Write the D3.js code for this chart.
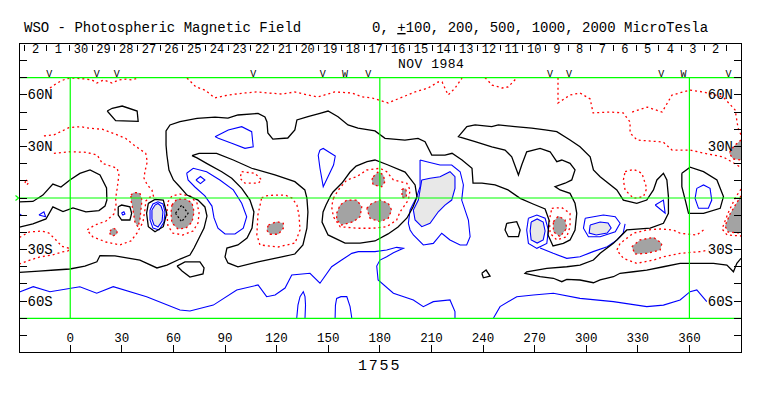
<!DOCTYPE html>
<html>
<head>
<meta charset="utf-8">
<script src="https://cdn.jsdelivr.net/npm/d3@7"></script>
<style>
  body { margin: 0; background: #fff; }
  svg { display: block; }
  text { font-family: "Liberation Mono", "DejaVu Sans Mono", monospace; fill: #000; }
</style>
</head>
<body>
<svg id="chart" width="763" height="396"></svg>
<script>
// ---- axis data ----
const lonTicks = [0, 30, 60, 90, 120, 150, 180, 210, 240, 270, 300, 330, 360];
const latTicks = [-80, -70, -60, -50, -40, -30, -20, -10, 0, 10, 20, 30, 40, 50, 60, 70, 80];
const latLabelLat = [60, 30, -30, -60];
const latLabelText = ["60N", "30N", "30S", "60S"];
const dayLabels = ["2", "1", "30", "29", "28", "27", "26", "25", "24", "23", "22", "21", "20", "19", "18",
  "17", "16", "15", "14", "13", "12", "11", "10", "9", "8", "7", "6", "5", "4", "3", "2"];
const firstDayLon = -26.75, dayWidth = 13.18;
const markLon = [-12.2, 15.4, 27, 106.4, 146.8, 159.8, 173.3, 279, 290, 343.6, 356.5, 382.7];
const markChar = ["V", "V", "V", "V", "V", "W", "V", "V", "V", "V", "W", "V"];

// ---- contour data: [longitude, latitude] ----
// zero line (black)
const zeroContours = [
  [[21.5,50.6],[24.4,52.2],[30.2,53.5],[38.9,50.6],[39.5,44.6],[26.4,45],[21.5,50.6]],
  [[-29.5,-2.3],[-21.7,-2],[-15.9,1.7],[-10.1,8.1],[-5.4,6.4],[-0.2,10.5],[5.6,14.3],[11.5,16.3],[17.3,13.4],[21.1,5.8],[21.3,-1.2],[20.2,-4.7],[16.7,-7.3],[9.1,-8.1],[1.6,-5.8],[-4.2,-7.9],[-10.1,-5.2],[-14.1,-12.2],[-21.7,-15.1],[-29.5,-16.9]],
  [[-29.5,-43.3],[-18.2,-42.5],[-8.9,-41.9],[-0.2,-41.3],[8.5,-39.6],[15.5,-37.1],[17.3,-33.5],[26,-33.7],[40.5,-36.1],[50.4,-40.7],[56.2,-39],[63.8,-35.5],[69.6,-33.2],[72,-29.1],[74.9,-23.3],[77.8,-17.5],[79.5,-10.5],[78.3,-5.2],[74.3,-1.2],[67.9,1.7],[63.8,6.4],[60,10.5],[57.4,16.3],[56.2,25],[55.7,30.8],[55.7,39],[58,42.5],[63.8,44.4],[73.7,46.3],[84.2,47.1],[91.7,46.5],[97.5,48.3],[109.2,49.2],[113.2,47.1],[114.4,44.2],[114.9,37.8],[117.8,34.3],[126.5,34.9],[130.6,39.6],[131.8,45.4],[138.2,47.3],[145.2,49.3],[149.9,50.6],[155.7,47.3],[161.5,42.5],[167.3,40.6],[177.2,39],[183,34.7],[194.6,33.7],[202.2,34.7],[206.3,32.8],[210.2,25],[217.9,25],[222,26],[227.8,22.1],[233.6,17.3],[234.2,8.6],[239.4,8.6],[247,7.6],[254.5,4.7],[261.6,-0.2],[269.1,-3.5],[276.1,-6.4],[278.4,-12.8],[277.8,-21.5],[280.7,-27.9],
   [286.7,-26.4],[290.6,-24.4],[293.5,-18.6],[294.5,-8.9],[293.5,-3.1],[290.6,2.7],[284.8,4.7],[281.9,6.6],[287.7,8.6],[291.6,10.5],[293.5,16.3],[290.6,20.2],[285.8,22.1],[282.9,21.1],[279,26.9],[273.2,28.9],[265.4,26.9],[262.5,19.2],[260.6,13.4],[256.7,24],[252.8,27.9],[245.1,29.8],[235.4,32.8],[225.7,35.7],[230.6,41.5],[235.4,42.5],[245.1,41.5],[248.9,42.5],[258.6,41.5],[268.3,40.6],[276.1,39.6],[282.9,38.6],[290.6,33.7],[296.4,29.8],[302.3,24],[304.2,16.3],[308.1,12.4],[317.8,4.7],[321.6,-1.2],[329.4,-3.1],[335.2,-1.2],[339.1,4.7],[341.1,10.5],[344.9,14.4],[346.9,10.5],[347.8,0.8],[347.8,-8.9],[344.9,-14.7],[337.2,-17.5],[323.6,-18.6],[319.7,-22.5],[315.8,-26.4],[308.1,-32.2],[304.2,-36.1],[296.4,-39],[288.7,-40],[277.1,-40.9],[265.4,-42.9],[264.4,-43.8],[273.2,-45.8],[280.9,-46.7],[285.8,-48.7],[288.7,-47.3],[296.4,-47.7],[304.2,-49.3],[308.1,-47.7],[315.8,-45.8],[319.7,-43.8],[327.4,-42.9],[335.2,-41.9],[344.9,-40],[354.6,-38],[364.3,-38],[374,-38],[381.8,-39],[385.6,-42.9],[387.6,-38],[390,-35.1]],
  [[70.8,24.7],[74.9,26],[85.1,26],[94.8,22.1],[105.5,17.3],[119,13.4],[130.6,9.5],[136.4,4.7],[137.6,0],[138.2,-8.1],[137.6,-17.5],[135.3,-27.3],[130.6,-32.6],[123,-34.3],[109.2,-37.2],[97.5,-40.1],[91.7,-37.8],[90,-34.3],[91.1,-29.1],[97.5,-27.3],[102.8,-23.3],[105.7,-17.5],[106.8,-8.1],[104.5,-1.2],[99.7,5.6],[93.9,11.5],[88.1,15.3],[80.3,19.6],[73.7,23.3],[70.8,24.7]],
  [[151.6,1.7],[148.7,-4.1],[147,-8.1],[146.4,-14],[149.9,-21.5],[159.8,-26.2],[168.5,-26.2],[177.2,-25],[184.8,-20.9],[190.6,-16.9],[195.8,-11.6],[199.3,-5.2],[201.6,0.6],[200.5,7.6],[194.7,15.1],[184.8,19.2],[177.2,22.1],[172.6,21.1],[166.2,18.6],[162.7,15.1],[158,8.7],[152.8,3.5],[151.6,1.7]],
  [[62.1,-39.6],[66.7,-37.2],[75.4,-37.2],[77.8,-40.7],[77.2,-44.2],[69.6,-46],[65,-42.5],[62.1,-39.6]],
  [[253.8,-14.7],[259.6,-13.8],[261.6,-18.6],[260.6,-22.5],[254.7,-22.5],[252.8,-18.6],[253.8,-14.7]],
  [[355.6,14.4],[360.4,17.9],[368.2,15.3],[376,10.5],[379.8,0.8],[377.9,-6],[368.2,-8.9],[359.5,-8.9],[357.6,-1.2],[355.6,6.6],[355.6,14.4]],
  [[239.3,-43.8],[241.8,-41.9],[244.1,-45.4],[240.2,-46.4],[239.3,-43.8]],
  [[27.9,-5.1],[29.9,-4.1],[34.7,-5.1],[35.7,-8.9],[34.7,-12.8],[29.9,-12.8],[27.9,-9.9],[27.9,-5.1]],
  [[45.4,-3.1],[49.3,-0.8],[54.1,-1.2],[56.1,-8.9],[54.1,-16.7],[49.3,-19.6],[45.4,-16.7],[44.4,-8.9],[45.4,-3.1]]
];

// positive contours (red dotted)
const posContours = [
  [[-11.8,64],[-8.9,66],[-5.4,68.1],[-1.9,69.5],[1,69.8],[5.6,69.5],[9.1,69.2],[12.6,68.7],[15.5,66.9],[19.6,68.7],[24.3,66.9],[28.3,68.7],[32.4,69.2],[35.9,68.7],[40,70]],
  [[67.9,69.8],[70.8,66.9],[73.1,64.6],[78.3,62.8],[84.1,58.2],[91.7,59.9],[101.6,61.1],[108.5,61.7],[114.9,61.1],[123,60.5],[130.6,61.7],[138.2,59.9],[144,58.8],[153.9,61.7],[163.8,61.1],[169.6,58.8],[175.5,58.2],[184.8,55.3],[188.9,57],[200.5,61.7],[208.1,64],[213.9,67.5],[216.2,67.5],[219.7,59.9],[223.8,64],[227.8,69.8]],
  [[241.2,70],[245.3,65.7],[251.1,64],[254.6,64.6],[259.8,70]],
  [[283.6,70],[283.6,62.8],[283.6,55.3],[290.6,59.9],[296.4,61.1],[302.3,57.6],[304,49.5],[313.9,50],[321.5,49.5],[325.5,44.2],[325.5,37.8],[329.6,33.7],[344.7,32.6],[349.9,27.9],[360.4,27.9],[367.9,26.2],[379.6,23.9],[387.7,19.2],[390,17.5]],
  [[326.7,50],[335.4,52.9],[344.1,50],[349.9,59.9],[360.4,62.8],[368,61.7],[379.6,58.8],[386.6,51.2],[388.3,40.7],[390,36.7]],
  [[-15.3,36.1],[-9.5,36.7],[-0.8,40.9],[6,41.5],[10.9,40.6],[18.6,40],[27.3,36.7],[32.2,34.7],[37,30.8],[43.9,26],[44.8,21.1],[43.4,15.3],[42.9,11.5],[44.8,7.6],[47.5,4.7],[48.7,-0.2]],
  [[-9.5,26],[-0.8,26.9],[9,26.6],[15.7,25],[18.6,20.2],[27.3,17.3],[28.3,13.4],[27.3,5.6],[26.4,-0.2],[26.6,-4.1],[25.4,-9.3],[20.8,-13.4],[14.4,-15.7],[9.7,-18.6],[13.2,-22.7],[20.8,-25.6],[28.9,-27.3],[35.3,-25],[38.8,-20.4],[42.3,-14],[43.4,-7],[44,-1.7],[46.4,0.6],[48.7,-0.2]],
  [[56.8,-2.3],[59.1,1.2],[63.8,2.3],[69.6,1.2],[73.7,-2.9],[74.9,-8.7],[74.3,-14.5],[71.4,-19.2],[65.5,-21.5],[59.7,-20.4],[56.8,-16.3],[56.2,-8.7],[56.8,-2.3]],
  [[153,-0.2],[155.9,4.7],[160.8,10.5],[166.6,12.4],[172.4,16.3],[180.1,17.3],[184,15.3],[187.9,10.5],[191.8,9.5],[195.7,8.6],[197.6,4.7],[196.6,-1.2],[191.8,-8],[189.8,-12.8],[184,-16.7],[176.2,-17.6],[166.6,-17.6],[156.9,-16.7],[153,-10.9],[152,-5.1],[153,-0.2]],
  [[99.7,15.3],[107.4,14.4],[111.3,10.5],[109.3,8.6],[101.6,8.6],[98.7,11.5],[99.7,15.3]],
  [[111.3,0],[113.2,1.2],[119.1,1.7],[124.9,1.7],[128.9,0],[131.8,-4.1],[133,-9.9],[133.6,-18.6],[130.7,-26.2],[120.8,-28.5],[110.3,-27.3],[108.5,-21.5],[109.1,-9.9],[111.3,0]],
  [[-29.5,-23],[-24,-19.8],[-16.5,-19.2],[-12.4,-20.4],[-8.3,-24.4],[-4.8,-28.2],[-0.2,-29.4],[-1.3,-30.8],[-4.8,-31.4],[-10.6,-33.2],[-17.6,-34.3],[-23.4,-36.1],[-29.5,-38.4]],
  [[-25.8,10.5],[-24,9.3],[-25.2,7.6],[-26.3,8.7],[-25.8,10.5]],
  [[322.6,15.3],[327.5,16.7],[332.4,14.4],[335.2,5.6],[333.3,0.8],[327.5,-0.2],[322.6,4.7],[321.6,10.5],[322.6,15.3]],
  [[280,-6],[285.8,-5.6],[290.6,-8.9],[290.6,-16.7],[288.7,-22.5],[282.9,-24.4],[279,-20.5],[278.6,-12.8],[280,-6]],
  [[368.2,-18.6],[364.3,-21.5],[354.6,-20.5],[350.6,-18.6],[343,-18],[335.2,-18.6],[327.4,-20.5],[319.7,-26.4],[317.8,-30.3],[321.6,-35.1],[329.4,-38],[339.1,-36.1],[344.9,-34.2],[354.6,-32.2],[366.2,-31.2],[371.1,-30.3]],
  [[390,5.2],[386.6,0],[382.5,-8.7],[379,-18],[381.9,-21.5],[390,-22.1]]
];

// strong positive cores (dark grey, red outline)
const posCores = [
  [[35.3,1.7],[37,3.2],[40.5,2.9],[41.7,-1.2],[41.1,-7],[40.5,-12.8],[39.4,-16.9],[37.6,-14],[36.5,-7],[35.3,-1.2],[35.3,1.7]],
  [[23.1,-19.2],[24.8,-17.5],[27.2,-18.6],[27.2,-20.9],[24.8,-22.1],[23.1,-20.9],[23.1,-19.2]],
  [[59.1,-4.1],[62.1,-0.6],[67.3,-0.6],[70.8,-2.9],[72,-8.1],[70.8,-14],[67.3,-17.5],[62.6,-18],[59.1,-14.5],[58.6,-8.7],[59.1,-4.1]],
  [[154.9,-8.9],[156.9,-4.1],[160.8,-1.2],[166.6,-1.2],[169.5,-5.1],[168.5,-10.9],[164.6,-13.8],[157.8,-15.7],[154.9,-12.8],[154.9,-8.9]],
  [[172.4,-6],[175.3,-3.1],[180.1,-1.2],[184.9,-3.1],[186.9,-7],[184.9,-11.8],[180.1,-13.8],[174.3,-11.8],[172.4,-6]],
  [[176.2,12.4],[179.1,15.3],[182,13.4],[183,9.5],[181.1,6.6],[176.2,7.6],[175.3,10.5],[176.2,12.4]],
  [[192.9,5.2],[195.2,5.5],[195.5,0.3],[192.9,0.3],[192.9,5.2]],
  [[115.2,-15.7],[120,-13.8],[123.9,-14.7],[123.9,-17.6],[121,-21.1],[116.1,-21.1],[114.2,-18.6],[115.2,-15.7]],
  [[280.9,-13.8],[283.8,-10.5],[287.7,-12.8],[288.7,-17.6],[284.8,-22.5],[280.9,-19.6],[280.9,-13.8]],
  [[326.5,-28.3],[331.3,-24.4],[339.1,-22.9],[344,-26.4],[343,-30.3],[335.2,-32.2],[328.4,-32.6],[326.5,-28.3]],
  [[390,1.2],[387.1,-3.5],[383.6,-9.3],[380.7,-16.3],[382.5,-19.8],[390,-20.4]],
  [[390,33.7],[386,30.3],[383.1,26.2],[385.4,22.7],[390,22.1]]
];

// very strong positive (black dashed)
const peakContours = [
  [[61.2,-8.9],[64.8,-4.1],[68.5,-8.9],[64.8,-13.8],[61.2,-8.9]]
];

// negative contours (blue)
const negContours = [
  [[84.2,35.7],[91.9,39.6],[99.7,41.5],[105.5,38.6],[106.4,29.8],[101.6,28.9],[93.9,31.8],[86.1,34.7],[84.2,35.7]],
  [[145.2,27.9],[147.1,28.8],[154.1,24.4],[153.1,19.2],[147.1,6.6],[145.2,17.3],[144.2,24.9],[145.2,27.9]],
  [[67.7,14.4],[71.5,17.3],[79.3,15.3],[87,10.5],[94.8,4.7],[99.7,-3.1],[102.6,-10.9],[100.6,-17.6],[95.8,-20.9],[90,-20.9],[85.9,-17.5],[83.6,-11.6],[82.4,-4.7],[78.3,1.2],[72.5,6.4],[68.5,10.5],[67.7,14.4]],
  [[73.1,10.5],[75.7,12.5],[78.3,10.5],[75.7,8.4],[73.1,10.5]],
  [[203.4,22.1],[207.3,21.1],[215,19.2],[221.8,19.2],[226.7,15.3],[228.6,7.6],[227.6,-1.2],[231.5,-12.8],[232.5,-22.5],[230.5,-27.3],[226.7,-27.3],[220.8,-24.4],[216,-20.5],[211.1,-26.4],[205.3,-27.3],[199.5,-21.5],[197.6,-18.6],[196.6,-14.7],[197.6,-7],[201.5,0.8],[203.4,6.6],[203.4,22.1]],
  [[-29.5,-54.7],[-21.5,-51.6],[-11.8,-54.5],[5.6,-51.6],[15.4,-55.4],[25,-51.6],[44.4,-57.4],[63.8,-65.2],[69.6,-65.7],[83.2,-62.3],[96.8,-53.5],[109.2,-50.6],[114.2,-57.4],[119.1,-56.4],[124.9,-52.4],[128.8,-44.8],[139.4,-43.8],[145.2,-49.6],[152,-40],[157.8,-36.1],[163.7,-32.2],[167.5,-31.2],[177.2,-31.2],[184,-30.3],[189.8,-28.7],[193.7,-29.3],[187.9,-31.8],[184,-34.2],[180.1,-36.1],[178.2,-39.6],[179,-47.7],[187.9,-55.4],[199.5,-59.3],[205.3,-63.2],[211.1,-60.3],[220.8,-59.3],[223.7,-66.1],[223.7,-69.8]],
  [[246.1,-69.8],[249.9,-63.2],[259.6,-57.4],[269.3,-56.4],[280.9,-55.4],[296.4,-58.4],[315.8,-60.3],[335.2,-63.2],[344.9,-62.3],[354.6,-59.3],[360.4,-54.5],[364.3,-53.5],[370.1,-60.3]],
  [[131.7,-69.8],[132.4,-62.3],[133.6,-57.4],[135.5,-54.5],[136.5,-57.4],[136.8,-62.3],[136.5,-69.8]],
  [[154,-69.8],[154.2,-62.3],[154.9,-58.4],[157.4,-57.4],[160.8,-57.4],[162.7,-63.2],[163.7,-69.8]],
  [[-18.2,-9.9],[-15.3,-8],[-14.3,-10.9],[-18.2,-9.9]],
  [[-29.5,-9.3],[-28.6,-9.9],[-29.5,-10.5]],
  [[29.8,-8.7],[31.2,-8],[31.8,-9.3],[30.6,-9.9],[29.8,-8.7]],
  [[46.4,-7],[48.1,-3.5],[51,-2.2],[53.9,-3.5],[55.1,-8.1],[54.5,-14],[51.6,-18.6],[48.1,-17.5],[46.4,-12.8],[46.4,-7]],
  [[266.4,-11.8],[271.3,-9.9],[276.1,-11.8],[278,-18.6],[277.1,-26.4],[271.3,-29.3],[266.4,-26.4],[265.4,-18.6],[266.4,-11.8]],
  [[273.2,-29.1],[280.8,-32.2],[288.7,-35.1],[296.4,-34.2],[304,-31.2],[312.2,-28.3],[318,-24.4],[321.5,-20.4],[322.6,-15.1]],
  [[299.4,-11.8],[310,-9.9],[316.9,-10.9],[319.7,-14.7],[316.9,-19.6],[308.1,-22.5],[301.3,-22.5],[298.4,-17.6],[299.4,-11.8]],
  [[364.3,5.6],[368.2,7.6],[372,5.6],[373,-1.2],[371,-6],[365.3,-6],[363.3,-0.2],[364.3,5.6]],
  [[340.1,-4.1],[344.9,-1.2],[345.9,-8.9],[340.1,-4.1]]
];

// strong negative cores (light grey, blue outline)
const negCores = [
  [[204.4,10.5],[209.2,11.5],[215,12.4],[220.8,15.3],[223.7,12.4],[223.7,5.6],[221.8,-1.2],[217.9,-4.1],[214,-8],[209.2,-14.7],[204.4,-16.7],[200.5,-12.8],[199.5,-7],[202.4,-1.2],[203.4,4.7],[204.4,10.5]],
  [[47.5,-7],[49.3,-4.1],[51,-3.2],[52.8,-4.7],[53.9,-8.1],[53.4,-13.4],[51,-16.9],[48.7,-15.7],[47.5,-12.2],[47.5,-7]],
  [[268,-14],[271.5,-12.2],[275,-14],[276.1,-19.2],[275,-24.4],[271.5,-26.2],[268,-24.4],[267.4,-19.2],[268,-14]],
  [[302.3,-15.7],[308.1,-14],[312.7,-14.5],[314.5,-17.5],[312.2,-20.4],[305.8,-21.5],[301.7,-20.4],[302.3,-15.7]]
];

// ---- scales ----
const svg = d3.select("#chart");
const x = d3.scaleLinear().domain([-29.5, 390]).range([19.5, 741]);
const y = d3.scaleLinear().domain([-90, 90]).range([352.7, 43.3]);
const line = d3.line().x(d => x(d[0])).y(d => y(d[1]));

svg.append("defs").append("clipPath").attr("id", "plotclip")
  .append("rect")
  .attr("x", x(-29.5)).attr("y", y(70))
  .attr("width", x(390) - x(-29.5)).attr("height", y(-70) - y(70));

const plot = svg.append("g").attr("clip-path", "url(#plotclip)");

// filled cores
plot.selectAll(".pcore").data(posCores).enter().append("path")
  .attr("d", line).attr("fill", "#a3a3a3").attr("stroke", "none");
plot.selectAll(".ncore").data(negCores).enter().append("path")
  .attr("d", line).attr("fill", "#e8e8e8").attr("stroke", "none");

// contour lines
plot.selectAll(".pos").data(posContours.concat(posCores)).enter().append("path")
  .attr("d", line).attr("fill", "none")
  .attr("stroke", "#ff0000").attr("stroke-width", 1.3).attr("stroke-dasharray", "2,3");
plot.selectAll(".neg").data(negContours.concat(negCores)).enter().append("path")
  .attr("d", line).attr("fill", "none")
  .attr("stroke", "#0000ff").attr("stroke-width", 1.1);
plot.selectAll(".zero").data(zeroContours).enter().append("path")
  .attr("d", line).attr("fill", "none")
  .attr("stroke", "#000").attr("stroke-width", 1.3);
plot.selectAll(".peak").data(peakContours).enter().append("path")
  .attr("d", line).attr("fill", "none")
  .attr("stroke", "#000").attr("stroke-width", 1.2).attr("stroke-dasharray", "2,2");

// green reference grid
const green = svg.append("g").attr("stroke", "#00ff00").attr("stroke-width", 1.2);
[70, 0, -70].forEach(lat => {
  green.append("line").attr("x1", x(-29.5)).attr("x2", x(390)).attr("y1", y(lat)).attr("y2", y(lat));
});
[0, 180, 360].forEach(lon => {
  green.append("line").attr("x1", x(lon)).attr("x2", x(lon)).attr("y1", y(70)).attr("y2", y(-70));
});
green.append("path").attr("fill", "none")
  .attr("d", `M${x(-29.5) - 4},${y(0) - 2.5}L${x(-29.5) - 1},${y(0)}L${x(-29.5) - 4},${y(0) + 2.5}`);

// frame and ticks
const frame = svg.append("g").attr("stroke", "#000").attr("stroke-width", 1).attr("shape-rendering", "crispEdges");
frame.append("rect").attr("x", x(-29.5)).attr("y", y(90))
  .attr("width", x(390) - x(-29.5)).attr("height", y(-90) - y(90)).attr("fill", "none");
latTicks.forEach(lat => {
  frame.append("line").attr("x1", x(-29.5)).attr("x2", x(-29.5) + 7).attr("y1", y(lat)).attr("y2", y(lat));
  frame.append("line").attr("x1", x(390) - 7).attr("x2", x(390)).attr("y1", y(lat)).attr("y2", y(lat));
});
lonTicks.forEach(lon => {
  frame.append("line").attr("x1", x(lon)).attr("x2", x(lon)).attr("y1", y(-90) - 8).attr("y2", y(-90));
});
const dayEdges = d3.range(dayLabels.length + 1).map(i => firstDayLon + i * dayWidth);
dayEdges.forEach(lon => {
  frame.append("line").attr("x1", x(lon)).attr("x2", x(lon)).attr("y1", y(90) + 2).attr("y2", y(90) + 8);
});

// texts
svg.append("text").attr("x", 24).attr("y", 32).attr("font-size", 14)
  .text("WSO - Photospheric Magnetic Field");
const units = svg.append("text").attr("x", 372).attr("y", 32).attr("font-size", 14);
units.append("tspan").text("0, ");
units.append("tspan").attr("text-decoration", "underline").text("+");
units.append("tspan").text("100, 200, 500, 1000, 2000 MicroTesla");

svg.selectAll(".day").data(dayLabels).enter().append("text")
  .attr("x", (d, i) => x(firstDayLon + (i + 0.5) * dayWidth))
  .attr("y", 53).attr("font-size", 12).attr("text-anchor", "middle")
  .text(d => d);
svg.append("text").attr("x", 398).attr("y", 67.5).attr("font-size", 13)
  .attr("letter-spacing", 0.5).text("NOV 1984");

svg.selectAll(".mark").data(markLon).enter().append("text")
  .attr("x", d => x(d)).attr("y", 77).attr("font-size", 10).attr("text-anchor", "middle")
  .text((d, i) => markChar[i]);

latLabelLat.forEach((lat, i) => {
  svg.append("text").attr("x", x(-29.5) + 8).attr("y", y(lat) + 4.5).attr("font-size", 14).text(latLabelText[i]);
  svg.append("text").attr("x", x(390) - 8).attr("y", y(lat) + 4.5).attr("font-size", 14)
    .attr("text-anchor", "end").text(latLabelText[i]);
});

svg.selectAll(".lon").data(lonTicks).enter().append("text")
  .attr("x", d => x(d)).attr("y", 342).attr("font-size", 12.5).attr("text-anchor", "middle")
  .text(d => d);

svg.append("text").attr("x", 358).attr("y", 370).attr("font-size", 15)
  .attr("letter-spacing", 1.8).text("1755");
</script>
</body>
</html>
